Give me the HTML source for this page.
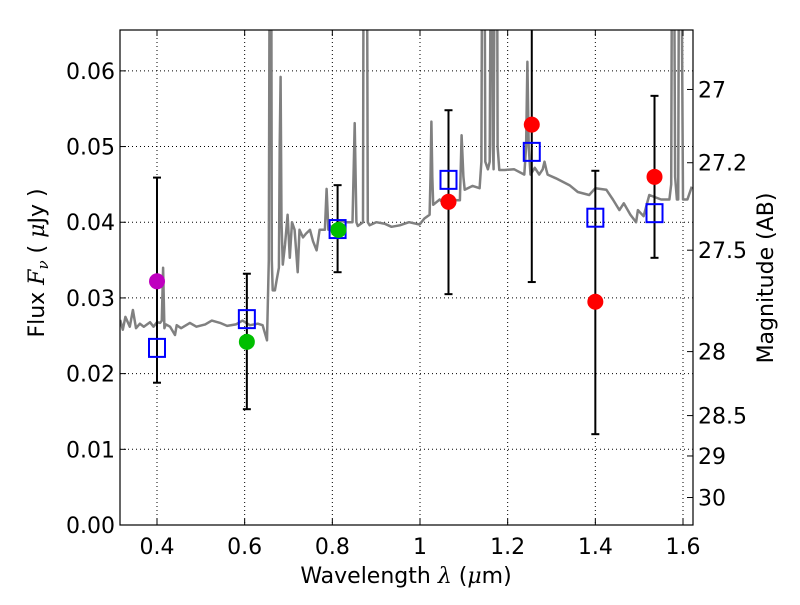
<!DOCTYPE html>
<html><head><meta charset="utf-8"><style>
body{margin:0;background:#fff}
svg text{font-family:"DejaVu Sans","Liberation Sans",sans-serif;fill:#000}
</style></head><body>
<svg id="chart" width="800" height="600" xmlns="http://www.w3.org/2000/svg">
<rect width="800" height="600" fill="#fff"/>
<g id="grid"></g>
<g id="spec"></g>
<g id="marks"></g>
<g id="axes"></g>
</svg>
<script>
const specLam=[0.316,0.322,0.328,0.338,0.345,0.352,0.361,0.370,0.384,0.392,0.400,0.407,0.411,0.414,0.417,0.420,0.430,0.441,0.445,0.455,0.475,0.490,0.510,0.525,0.544,0.560,0.580,0.595,0.612,0.630,0.641,0.651,0.655,0.658,0.660,0.662,0.664,0.669,0.673,0.678,0.680,0.682,0.684,0.687,0.692,0.698,0.703,0.708,0.714,0.721,0.725,0.733,0.740,0.749,0.756,0.764,0.771,0.783,0.787,0.791,0.794,0.800,0.810,0.820,0.830,0.846,0.851,0.855,0.858,0.870,0.872,0.874,0.876,0.878,0.881,0.885,0.900,0.920,0.935,0.954,0.975,0.999,1.010,1.022,1.024,1.026,1.028,1.030,1.045,1.056,1.070,1.086,1.091,1.095,1.099,1.102,1.120,1.136,1.140,1.143,1.146,1.149,1.155,1.159,1.163,1.166,1.168,1.172,1.175,1.177,1.181,1.193,1.215,1.238,1.242,1.245,1.248,1.252,1.262,1.272,1.280,1.284,1.288,1.291,1.310,1.341,1.360,1.386,1.400,1.425,1.440,1.455,1.465,1.480,1.493,1.497,1.510,1.523,1.550,1.569,1.573,1.576,1.578,1.582,1.586,1.589,1.592,1.594,1.600,1.610,1.620];
const specFlux=[0.0271,0.0258,0.0275,0.0262,0.0284,0.026,0.0266,0.0262,0.0268,0.0262,0.0268,0.0267,0.027,0.034,0.026,0.0265,0.0262,0.0251,0.0264,0.026,0.0267,0.0262,0.0265,0.027,0.0267,0.0263,0.0265,0.027,0.0264,0.0266,0.0264,0.0244,0.035,0.1,0.1,0.035,0.031,0.031,0.0324,0.034,0.05,0.0592,0.04,0.0344,0.037,0.041,0.0353,0.04,0.039,0.0334,0.039,0.038,0.0385,0.039,0.0375,0.0363,0.039,0.039,0.0444,0.039,0.0396,0.0392,0.0396,0.0402,0.040,0.040,0.0531,0.040,0.0395,0.040,0.1,0.1,0.1,0.1,0.040,0.0396,0.0400,0.0398,0.0394,0.0396,0.0400,0.0397,0.0405,0.041,0.046,0.0533,0.046,0.0423,0.0430,0.0423,0.0430,0.0429,0.0429,0.0515,0.046,0.0443,0.0448,0.0445,0.048,0.1,0.1,0.048,0.047,0.048,0.1,0.05,0.047,0.1,0.1,0.05,0.0469,0.0469,0.0470,0.0463,0.05,0.0612,0.05,0.0463,0.0472,0.0463,0.047,0.048,0.047,0.0463,0.0458,0.0449,0.0440,0.0436,0.0445,0.0443,0.043,0.0416,0.0425,0.041,0.040,0.0416,0.0408,0.0436,0.043,0.043,0.045,0.1,0.1,0.046,0.043,0.043,0.1,0.1,0.043,0.043,0.0447];
const sqLam=[0.40,0.605,0.812,1.065,1.255,1.40,1.535];
const sqFlux=[0.0234,0.0272,0.0391,0.0456,0.0493,0.0406,0.0412];
const errLam=[0.40,0.605,0.812,1.065,1.255,1.40,1.535];
const errLo=[0.0188,0.0153,0.0334,0.0305,0.0321,0.012,0.0353];
const errHi=[0.0459,0.0332,0.0449,0.0548,0.07,0.0468,0.0567];
const redLam=[1.065,1.255,1.40,1.535];
const redFlux=[0.0427,0.0529,0.0295,0.046];
const greenLam=[0.605,0.814];
const greenFlux=[0.0242,0.039];
const purpleLam=[0.40];
const purpleFlux=[0.0322];
const xTicks=[0.4,0.6,0.8,1.0,1.2,1.4,1.6];
const xTickLabels=["0.4","0.6","0.8","1","1.2","1.4","1.6"];
const yTicks=[0,0.01,0.02,0.03,0.04,0.05,0.06];
const yTickLabels=["0.00","0.01","0.02","0.03","0.04","0.05","0.06"];
const magTicks=[27,27.2,27.5,28,28.5,29,30];
const magLabels=["27","27.2","27.5","28","28.5","29","30"];

const L=120,R=693,T=30,B=525;
const X0=0.3156,X1=1.6228,Y0=0,Y1=0.0654;
const sx=v=>L+(v-X0)/(X1-X0)*(R-L);
const sy=v=>B-(v-Y0)/(Y1-Y0)*(B-T);
const NS="http://www.w3.org/2000/svg";
function mk(tag,attrs,parent){const e=document.createElementNS(NS,tag);for(const k in attrs)e.setAttribute(k,attrs[k]);parent.appendChild(e);return e;}
const grid=document.getElementById('grid'),spec=document.getElementById('spec'),marks=document.getElementById('marks'),axes=document.getElementById('axes');

const defs=mk('defs',{},document.getElementById('chart'));
const cp=mk('clipPath',{id:'pc'},defs);mk('rect',{x:L,y:T,width:R-L,height:B-T},cp);
spec.setAttribute('clip-path','url(#pc)');marks.setAttribute('clip-path','url(#pc)');

xTicks.forEach((v,i)=>{
 const g=mk('line',{x1:sx(v),x2:sx(v),y1:T,y2:B,stroke:'#000','stroke-width':1,'stroke-dasharray':'1,3'},grid);
 
 
 mk('line',{x1:sx(v),x2:sx(v),y1:B,y2:B-6,stroke:'#000'},axes);
 mk('line',{x1:sx(v),x2:sx(v),y1:T,y2:T+6,stroke:'#000'},axes);
 const t=mk('text',{x:sx(v),y:B+29,'font-size':22,'text-anchor':'middle'},axes);t.textContent=xTickLabels[i];
 
 
});
yTicks.forEach((v,i)=>{
 const g=mk('line',{x1:L,x2:R,y1:sy(v),y2:sy(v),stroke:'#000','stroke-width':1,'stroke-dasharray':'1,3'},grid);
 
 
 mk('line',{x1:L,x2:L+6,y1:sy(v),y2:sy(v),stroke:'#000'},axes);
 const t=mk('text',{x:L-5,y:sy(v)+8,'font-size':22,'text-anchor':'end'},axes);t.textContent=yTickLabels[i];
 
 
});
magTicks.forEach((m,i)=>{
 const f=Math.pow(10,(23.9-m)/2.5);const y=sy(f);
 mk('line',{x1:R,x2:R-6,y1:y,y2:y,stroke:'#000'},axes);
 const t=mk('text',{x:R+5,y:y+8,'font-size':22},axes);t.textContent=magLabels[i];
 
 
});

const pts=specLam.map((l,i)=>sx(l).toFixed(1)+','+sy(specFlux[i]).toFixed(1)).join(' ');
const pl=mk('polyline',{points:pts,fill:'none',stroke:'#808080','stroke-width':2.5,'stroke-linejoin':'round'},spec);



errLam.forEach((l,i)=>{
 const x=sx(l);
 const e=mk('line',{x1:x,x2:x,y1:sy(errLo[i]),y2:sy(errHi[i]),stroke:'#000','stroke-width':2},marks);
 
 
 mk('line',{x1:x-4,x2:x+4,y1:sy(errLo[i]),y2:sy(errLo[i]),stroke:'#000','stroke-width':2},marks);
 mk('line',{x1:x-4,x2:x+4,y1:sy(errHi[i]),y2:sy(errHi[i]),stroke:'#000','stroke-width':2},marks);
});
function dots(lams,fl,col,name){lams.forEach((l,i)=>{
 const c=mk('circle',{cx:sx(l),cy:sy(fl[i]),r:8,fill:col},marks);
 
 
});}
sqLam.forEach((l,i)=>{
 const r=mk('rect',{x:sx(l)-8,y:sy(sqFlux[i])-9,width:16,height:18,fill:'none',stroke:'#0000ff','stroke-width':2},marks);
 
 
});
dots(redLam,redFlux,'#ff0000','red-photometry-point');
dots(greenLam,greenFlux,'#00bf00','green-photometry-point');
dots(purpleLam,purpleFlux,'#bf00bf','purple-photometry-point');

const fr=mk('rect',{x:L,y:T,width:R-L,height:B-T,fill:'none',stroke:'#000','stroke-width':1.2},axes);


</script>
<svg style="position:absolute;left:0;top:0" width="800" height="600" xmlns="http://www.w3.org/2000/svg">
<text x="406" y="583" font-size="22" text-anchor="middle" style="font-family:'DejaVu Sans',sans-serif">Wavelength  <tspan font-style="italic" font-family="DejaVu Serif">λ</tspan> (<tspan font-style="italic" font-family="DejaVu Serif">μ</tspan>m)</text>
<text transform="translate(44,263) rotate(-90)" font-size="22" text-anchor="middle" style="font-family:'DejaVu Sans',sans-serif">Flux  <tspan font-style="italic" font-family="DejaVu Serif">F</tspan><tspan font-style="italic" font-size="15" dy="4" font-family="DejaVu Serif">ν</tspan><tspan dy="-4">  (  </tspan><tspan font-style="italic" font-family="DejaVu Serif">μ</tspan>Jy )</text>
<text transform="translate(773,278) rotate(-90)" font-size="22" text-anchor="middle" style="font-family:'DejaVu Sans',sans-serif">Magnitude (AB)</text>
</svg>
</body></html>
